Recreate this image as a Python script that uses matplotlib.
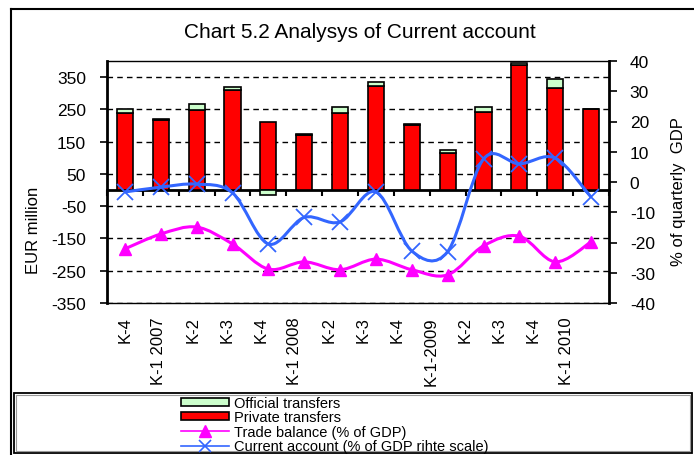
import numpy as np
import matplotlib.pyplot as plt
from matplotlib.path import Path
from matplotlib.patches import PathPatch, Rectangle, Patch
from matplotlib.lines import Line2D
from matplotlib.transforms import blended_transform_factory

plt.rcParams['font.family'] = ['Liberation Sans', 'DejaVu Sans']

quarters = ["K-4", "K-1 2007", "K-2", "K-3", "K-4", "K-1 2008", "K-2", "K-3",
            "K-4", "K-1-2009", "K-2", "K-3", "K-4", "K-1 2010"]
private = [238, 217, 248, 310, 211, 170, 239, 322, 202, 115, 242, 387, 316, 251]
official = [12, 3, 18, 9, -15, 3, 18, 12, 3, 10, 14, 6, 28, 1]
trade = [-22.1, -17.2, -14.9, -20.5, -28.8, -26.4, -29.0, -25.5, -29.0, -30.7,
         -21.1, -17.9, -26.4, -19.8]
current = [-3.3, -1.7, -0.7, -3.6, -20.5, -11.7, -13.2, -3.3, -22.8, -23.0,
           7.6, 6.0, 7.9, -5.0]

left_ticks = list(range(-350, 351, 100))
right_ticks = list(range(-40, 41, 10))

RED = '#FF0000'
GREEN = '#CCFFCC'
MAGENTA = '#FF00FF'
BLUE = '#3366FF'


def smooth_path(x, y):
    # Excel-style smoothed line: cubic bezier segments through the points
    pts = np.column_stack([x, y]).astype(float)
    n = len(pts)
    verts = [pts[0]]
    codes = [Path.MOVETO]
    for i in range(n - 1):
        p0 = pts[max(i - 1, 0)]
        p1 = pts[i]
        p2 = pts[i + 1]
        p3 = pts[min(i + 2, n - 1)]
        verts += [p1 + (p2 - p0) / 6, p2 - (p3 - p1) / 6, p2]
        codes += [Path.CURVE4] * 3
    return Path(verts, codes)


fig = plt.figure(figsize=(6.94, 4.56), dpi=100)
ax = fig.add_axes([107 / 694, 1 - 304 / 456, (609 - 107) / 694, (304 - 62) / 456])

x = np.arange(len(quarters))
priv = np.array(private, dtype=float)
off = np.array(official, dtype=float)
off_bottom = np.where(off >= 0, priv, 0)

ax.bar(x, priv, width=0.45, color=RED, edgecolor='black', lw=1.2, zorder=3)
ax.bar(x, off, bottom=off_bottom, width=0.45, color=GREEN, edgecolor='black', lw=1.2, zorder=3)

ax.set_xlim(-0.5, len(quarters) - 0.5)
ax.set_ylim(-350, 400)
ax.set_yticks(left_ticks)
ax.set_yticklabels([str(v) for v in left_ticks], fontsize=12.5)
ax.yaxis.grid(True, ls=(0, (4, 3)), color='black', lw=1)
ax.set_axisbelow(True)
ax.tick_params(axis='y', direction='out', length=5, width=1.2, pad=10)

ax.spines['bottom'].set_position(('data', 0))
ax.spines['bottom'].set_linewidth(2)
ax.spines['left'].set_linewidth(2)
ax.spines['top'].set_linewidth(1)
ax.spines['right'].set_visible(False)
ax.set_xticks(np.arange(-0.5, len(quarters), 1))
ax.set_xticklabels([])
ax.tick_params(axis='x', direction='out', length=4, width=1.5)

# category labels sit under the plot; in the source they are slightly compressed
tr = blended_transform_factory(ax.transData, ax.transAxes)
for i, q in enumerate(quarters):
    ax.text(i * 0.948, -0.054, q, transform=tr, rotation=90, ha='center', va='top',
            fontsize=12)

ax2 = ax.twinx()
ax2.set_ylim(-40, 40)
ax2.set_yticks(right_ticks)
ax2.set_yticklabels([str(v) for v in right_ticks], fontsize=12.5)
ax2.tick_params(axis='y', direction='out', length=6, width=1.2, pad=9)
ax2.spines['left'].set_visible(False)
ax2.spines['top'].set_visible(False)
ax2.spines['right'].set_linewidth(2)
ax2.spines['bottom'].set_linewidth(1)

ax2.add_patch(PathPatch(smooth_path(x, trade), fill=False, edgecolor=MAGENTA, lw=2.2, zorder=4))
ax2.plot(x, trade, ls='none', marker='^', ms=9, color=MAGENTA, zorder=5)
ax2.add_patch(PathPatch(smooth_path(x, current), fill=False, edgecolor=BLUE, lw=2.2, zorder=4))
ax2.plot(x, current, ls='none', marker='x', ms=12, mew=1.3, color=BLUE, zorder=5)

fig.text(360 / 694, 1 - 33 / 456, 'Chart 5.2 Analysys of Current account', ha='center',
         va='center', fontsize=15)
fig.text(33 / 694, 1 - 230 / 456, 'EUR million', rotation=90, ha='center', va='center',
         fontsize=12)
fig.text(678 / 694, 1 - 192 / 456, '% of quarterly  GDP', rotation=90, ha='center',
         va='center', fontsize=12)

# outer chart frame and legend box
fig.add_artist(Line2D([11 / 694, 11 / 694], [0, 1 - 10 / 456], color='black', lw=1.5,
                      transform=fig.transFigure))
fig.add_artist(Line2D([11 / 694, 1], [1 - 10 / 456, 1 - 10 / 456], color='black', lw=1.5,
                      transform=fig.transFigure))
fig.add_artist(Rectangle((14 / 694, 2 / 456), 678 / 694, 60 / 456, fill=False,
                         edgecolor='black', lw=1.3, transform=fig.transFigure))
fig.add_artist(Rectangle((16 / 694, 4 / 456), 674 / 694, 56 / 456, fill=False,
                         edgecolor='#999999', lw=0.8, transform=fig.transFigure))

handles = [
    Patch(facecolor=GREEN, edgecolor='black', lw=1.2),
    Patch(facecolor=RED, edgecolor='black', lw=1.2),
    Line2D([], [], color=MAGENTA, lw=1.2, marker='^', ms=8),
    Line2D([], [], color=BLUE, lw=1.2, marker='x', ms=8, mew=1.2),
]
labels = ['Official transfers', 'Private transfers', 'Trade balance (% of GDP)',
          'Current account (% of GDP rihte scale)']
fig.legend(handles, labels, loc='upper left', bbox_to_anchor=(181 / 694, 1 - 397 / 456),
           frameon=False, fontsize=10.5, borderpad=0, borderaxespad=0, labelspacing=0.03,
           handlelength=3.3, handletextpad=0.3, handleheight=0.5)

fig.savefig('out.png', dpi=100)
